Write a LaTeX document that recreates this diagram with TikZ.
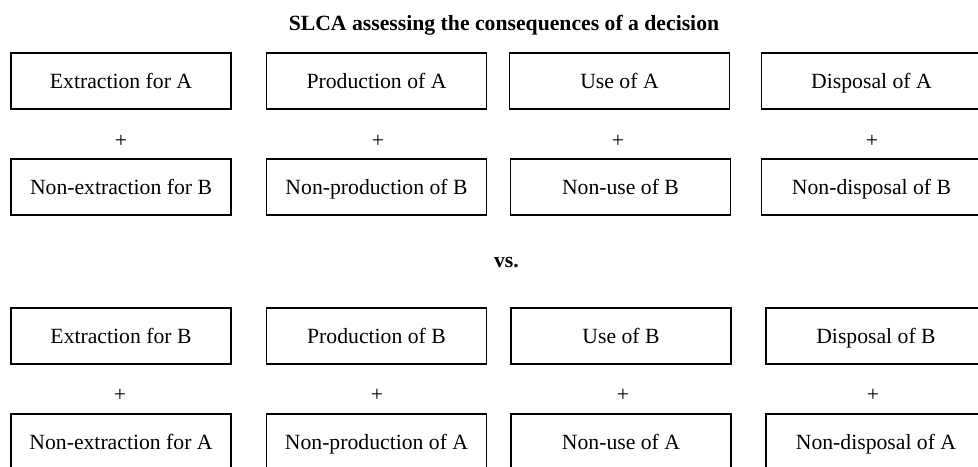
\documentclass[tikz,border=0pt]{standalone}
\usepackage{fontspec}
\setmainfont{Liberation Serif}
\begin{document}
\begin{tikzpicture}[x=0.5bp,y=-0.5bp,
        stage/.style={draw,rectangle,line width=0.9pt,minimum width=110bp,minimum height=28bp,inner sep=0pt,text height=8bp,text depth=0pt,font=\fontsize{10.85bp}{13bp}\selectfont},
        plus/.style={inner sep=0pt,font=\fontsize{10.85bp}{13bp}\selectfont},
        heading/.style={inner sep=0pt,anchor=base,font=\fontsize{10.85bp}{13bp}\selectfont\bfseries}]
        %% Frame
        \useasboundingbox (0,0) rectangle (978,467);
        %% Title
        \node[heading] (title) at (504,30.5) {SLCA assessing the consequences of a decision};
        %% Decision for A
        \node[stage] (extrA) at (121,81) {Extraction for A};
        \node[stage] (prodA) at (376.5,81) {Production of A};
        \node[stage] (useA) at (619.5,81) {Use of A};
        \node[stage] (dispA) at (871.5,81) {Disposal of A};
        \node[plus] (plusExtrA) at (121,141) {+};
        \node[plus] (plusProdA) at (378,141) {+};
        \node[plus] (plusUseA) at (618,141) {+};
        \node[plus] (plusDispA) at (872,141) {+};
        \node[stage] (nextrB) at (121,187) {Non-extraction for B};
        \node[stage] (nprodB) at (376.5,187) {Non-production of B};
        \node[stage] (nuseB) at (620.5,187) {Non-use of B};
        \node[stage] (ndispB) at (871.5,187) {Non-disposal of B};
        %% Versus
        \node[heading] (versus) at (506.5,268) {vs.};
        %% Decision for B
        \node[stage] (extrB) at (121,336) {Extraction for B};
        \node[stage] (prodB) at (376.5,336) {Production of B};
        \node[stage] (useB) at (621,336) {Use of B};
        \node[stage] (dispB) at (876,336) {Disposal of B};
        \node[plus] (plusExtrB) at (120,395) {+};
        \node[plus] (plusProdB) at (377,395) {+};
        \node[plus] (plusUseB) at (623,395) {+};
        \node[plus] (plusDispB) at (873,395) {+};
        \node[stage] (nextrA) at (121,442) {Non-extraction for A};
        \node[stage] (nprodA) at (376.5,442) {Non-production of A};
        \node[stage] (nuseA) at (621,442) {Non-use of A};
        \node[stage] (ndispA) at (876,442) {Non-disposal of A};
    \end{tikzpicture}
\end{document}
